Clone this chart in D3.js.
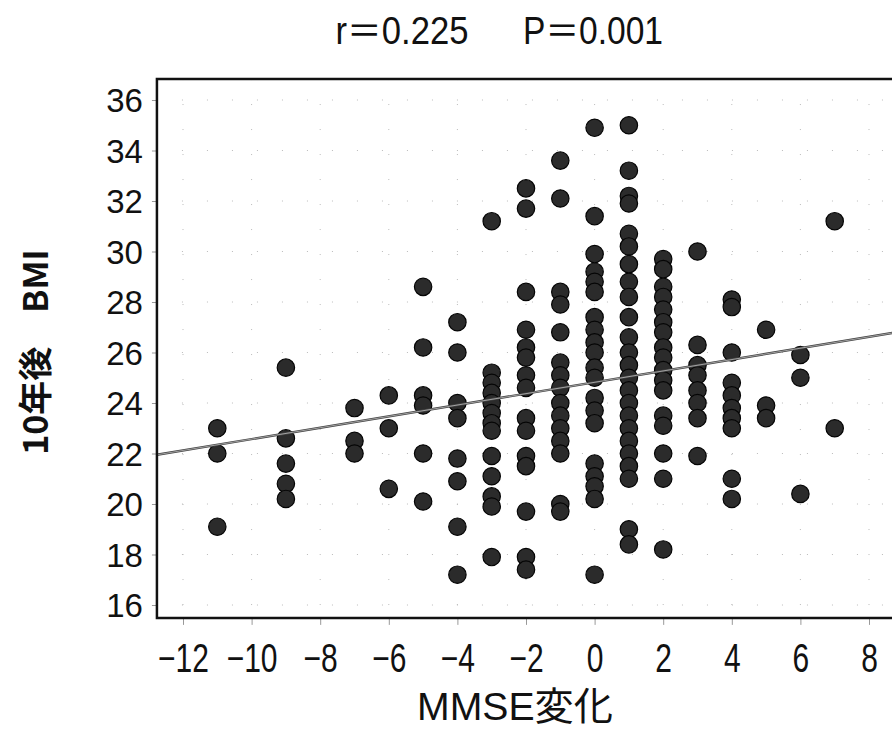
<!DOCTYPE html>
<html>
<head>
<meta charset="utf-8">
<script src="https://cdnjs.cloudflare.com/ajax/libs/d3/7.8.5/d3.min.js"></script>
<style>
  body { margin: 0; background: #fff; }
  text { font-family: "Liberation Sans", Arial, "Noto Sans CJK JP", sans-serif; fill: #111; }
</style>
</head>
<body>
<svg width="892" height="749"></svg>
<script>
// data: MMSE change (x) -> BMI after 10 years (y), one list per column
var mmse = [-11, -9, -7, -6, -5, -4, -3, -2, -1, 0, 1, 2, 3, 4, 5, 6, 7];
var bmi = [
  [23.0, 22.0, 19.1],
  [25.4, 22.6, 21.6, 20.8, 20.2],
  [23.8, 22.5, 22.0],
  [24.3, 23.0, 20.6],
  [28.6, 26.2, 24.3, 23.9, 22.0, 20.1],
  [27.2, 26.0, 24.0, 23.4, 21.8, 20.9, 19.1, 17.2],
  [31.2, 25.2, 24.8, 24.4, 24.0, 23.6, 23.2, 22.9, 21.9, 21.1, 20.3, 19.9, 17.9],
  [32.5, 31.7, 28.4, 26.9, 26.2, 25.8, 25.1, 24.6, 23.4, 22.9, 21.9, 21.5, 19.7, 17.9, 17.4],
  [33.6, 32.1, 28.4, 27.9, 26.8, 25.6, 25.1, 24.6, 24.0, 23.5, 23.0, 22.5, 22.0, 20.0, 19.7],
  [34.9, 31.4, 29.9, 29.2, 28.8, 28.4, 27.4, 26.9, 26.4, 26.0, 25.4, 25.0, 24.2, 23.7, 23.2, 21.6, 21.1, 20.7, 20.2, 17.2],
  [35.0, 33.2, 32.2, 31.9, 30.7, 30.2, 29.5, 28.8, 28.2, 27.4, 26.6, 26.0, 25.5, 25.0, 24.5, 24.0, 23.5, 23.0, 22.5, 22.0, 21.5, 21.0, 19.0, 18.4],
  [29.7, 29.3, 28.6, 28.2, 27.7, 27.2, 26.8, 26.2, 25.8, 25.3, 24.9, 24.5, 23.5, 23.1, 22.0, 21.0, 18.2],
  [30.0, 26.3, 25.5, 25.1, 24.5, 24.0, 23.4, 21.9],
  [28.1, 27.8, 26.0, 24.8, 24.3, 23.8, 23.4, 23.0, 21.0, 20.2],
  [26.9, 23.9, 23.4],
  [25.9, 25.0, 20.4],
  [31.2, 23.0]
];
var xTicks = [-12, -10, -8, -6, -4, -2, 0, 2, 4, 6, 8];
var yTicks = [16, 18, 20, 22, 24, 26, 28, 30, 32, 34, 36];
var fit = {intercept: 24.82, slope: 0.225};   // regression line
var titleR = "r＝0.225";
var titleP = "P＝0.001";
var xTitle = "MMSE変化";
var yTitle = "10年後　BMI";

var svg = d3.select("svg");

var x = d3.scaleLinear().domain([-12, 8]).range([183, 869]);
var y = d3.scaleLinear().domain([16, 36]).range([605, 100]);

// plot frame edges (right side runs off the picture)
var plotL = x(-12.76), plotR = 905, plotT = y(36.83), plotB = y(15.49);

var points = [];
mmse.forEach(function(m, i) {
  bmi[i].forEach(function(v) { points.push({x: m, y: v}); });
});

// faint dotted grid
var grid = svg.append("g").attr("class", "grid");
grid.selectAll(".gx").data(xTicks).enter().append("line")
    .attr("x1", function(d) { return x(d); }).attr("x2", function(d) { return x(d); })
    .attr("y1", plotT).attr("y2", plotB)
    .attr("stroke", "#bbb").attr("stroke-width", 1).attr("stroke-dasharray", "1,24");
grid.selectAll(".gy").data(yTicks).enter().append("line")
    .attr("y1", function(d) { return y(d); }).attr("y2", function(d) { return y(d); })
    .attr("x1", plotL).attr("x2", plotR)
    .attr("stroke", "#bbb").attr("stroke-width", 1).attr("stroke-dasharray", "1,24");

// axes: small light ticks, labels drawn by d3 axis
var xAxis = svg.append("g")
    .attr("transform", "translate(0," + plotB + ")")
    .call(d3.axisBottom(x).tickValues(xTicks).tickSize(7).tickPadding(19)
      .tickFormat(function(d) { return d < 0 ? "−" + Math.abs(d) : d; }));
xAxis.select(".domain").remove();
xAxis.selectAll("line").attr("stroke", "#999");
xAxis.selectAll("text")
    .attr("font-size", 40).attr("dy", "0.71em")
    .attr("transform", "scale(0.75,1)")   // condensed look
    .style("fill", "#111");

var yAxis = svg.append("g")
    .attr("transform", "translate(" + plotL + ",0)")
    .call(d3.axisLeft(y).tickValues(yTicks).tickSize(5).tickPadding(9));
yAxis.select(".domain").remove();
yAxis.selectAll("line").attr("stroke", "#999");
yAxis.selectAll("text").attr("font-size", 33).attr("dy", "0.36em").style("fill", "#111");

// points
svg.append("g").selectAll("circle").data(points).enter().append("circle")
    .attr("cx", function(d) { return x(d.x); })
    .attr("cy", function(d) { return y(d.y); })
    .attr("r", 8.7)
    .attr("fill", "#2b2b2b")
    .attr("stroke", "#050505")
    .attr("stroke-width", 1.2);

// regression line (double stroke look)
var x0 = -12.76, x1 = 8.9;
var fitLine = [[x0, fit.intercept + fit.slope * x0], [x1, fit.intercept + fit.slope * x1]];
var lineGen = d3.line().x(function(d) { return x(d[0]); }).y(function(d) { return y(d[1]); });
svg.append("path").attr("d", lineGen(fitLine))
    .attr("fill", "none").attr("stroke", "#444").attr("stroke-width", 2.4);
svg.append("path").attr("d", lineGen(fitLine))
    .attr("fill", "none").attr("stroke", "#ccc").attr("stroke-width", 0.7);

// frame
svg.append("path")
    .attr("d", "M" + plotR + "," + plotT + "H" + plotL + "V" + plotB + "H" + plotR)
    .attr("fill", "none").attr("stroke", "#111").attr("stroke-width", 2.5);

// titles
svg.append("text")
    .attr("x", 402).attr("y", 44)
    .attr("text-anchor", "middle")
    .attr("font-size", 38)
    .attr("textLength", 133).attr("lengthAdjust", "spacingAndGlyphs")
    .text(titleR);
svg.append("text")
    .attr("x", 593).attr("y", 44)
    .attr("text-anchor", "middle")
    .attr("font-size", 38)
    .attr("textLength", 140).attr("lengthAdjust", "spacingAndGlyphs")
    .text(titleP);

svg.append("text")
    .attr("x", 515).attr("y", 720)
    .attr("text-anchor", "middle")
    .attr("font-size", 39)
    .attr("textLength", 196).attr("lengthAdjust", "spacingAndGlyphs")
    .text(xTitle);

svg.append("text")
    .attr("transform", "translate(48,352) rotate(-90)")
    .attr("text-anchor", "middle")
    .attr("font-size", 34)
    .attr("font-weight", "bold")
    .style("font-family", "'Noto Sans CJK JP', sans-serif")
    .text(yTitle);
</script>
</body>
</html>
